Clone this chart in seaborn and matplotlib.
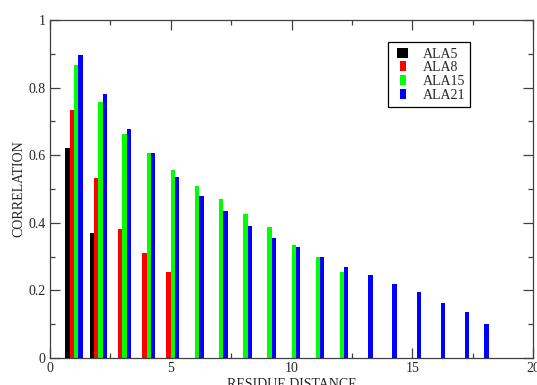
import numpy as np
import pandas as pd
import matplotlib
matplotlib.use("Agg")
import matplotlib.pyplot as plt
import matplotlib.patches as mpatches
from matplotlib.legend_handler import HandlerPatch
from matplotlib.ticker import MultipleLocator
import seaborn as sns

# values
series = ["ALA5", "ALA8", "ALA15", "ALA21"]
colors = ["#000000", "#ff0000", "#00ff00", "#0000ff"]

ala5_dist = [1, 2]
ala5_corr = [0.62, 0.37]

ala8_dist = [1, 2, 3, 4, 5]
ala8_corr = [0.733, 0.532, 0.382, 0.312, 0.255]

ala15_dist = [1, 2, 3, 4, 5, 6, 7, 8, 9, 10, 11, 12]
ala15_corr = [0.867, 0.757, 0.663, 0.607, 0.557, 0.51, 0.47, 0.427, 0.387,
              0.335, 0.30, 0.255]

# last bar sits a bit left of the regular spacing in the original
ala21_dist = [1, 2, 3, 4, 5, 6, 7, 8, 9, 10, 11, 12, 13, 14, 15, 16, 17, 17.8]
ala21_corr = [0.896, 0.782, 0.677, 0.607, 0.536, 0.479, 0.436, 0.391, 0.356,
              0.329, 0.30, 0.269, 0.245, 0.22, 0.194, 0.164, 0.135, 0.101]

xticks = [0, 5, 10, 15, 20]
xtick_labels = ["0", "5", "10", "15", "20"]
yticks = [0, 0.2, 0.4, 0.6, 0.8, 1.0]
ytick_labels = ["0", "0.2", "0.4", "0.6", "0.8", "1"]

frames = []
for name, d, c in [("ALA5", ala5_dist, ala5_corr), ("ALA8", ala8_dist, ala8_corr),
                   ("ALA15", ala15_dist, ala15_corr), ("ALA21", ala21_dist, ala21_corr)]:
    frames.append(pd.DataFrame({"distance": d, "correlation": c, "series": name}))
df = pd.concat(frames, ignore_index=True)

sns.set_style("ticks")
plt.rcParams["font.family"] = ["Liberation Serif", "DejaVu Serif"]
plt.rcParams["font.size"] = 10

fig = plt.figure(figsize=(5.37, 3.85), dpi=100)
ax = fig.add_axes([50 / 537, 27 / 385, 483 / 537, 338 / 385])

# native width is 0.8 (smallest gap between positions), so 0.9 -> 0.72 per group
sns.barplot(data=df, x="distance", y="correlation", hue="series",
            hue_order=series, palette=colors, native_scale=True, width=0.9,
            errorbar=None, saturation=1, linewidth=0, ax=ax)

ax.set_xticks(xticks)
ax.set_xticklabels(xtick_labels)
ax.set_yticks(yticks)
ax.set_yticklabels(ytick_labels)
ax.xaxis.set_minor_locator(MultipleLocator(2.5))
ax.yaxis.set_minor_locator(MultipleLocator(0.1))
ax.set_xlim(0, 20)
ax.set_ylim(0, 1)

edge = "#404040"
for s in ax.spines.values():
    s.set_visible(True)
    s.set_color(edge)
    s.set_linewidth(0.9)
ax.tick_params(which="both", direction="in", top=True, right=True, color=edge,
               width=0.9, labelsize=10, pad=3)
ax.tick_params(which="major", length=7)
ax.tick_params(which="minor", length=3.5)

ax.set_xlabel("RESIDUE DISTANCE", fontsize=10, labelpad=2)
ax.set_ylabel("CORRELATION", fontsize=10, labelpad=2)


def bar_handle(w):
    def make(legend, orig_handle, xdescent, ydescent, width, height, fontsize):
        return mpatches.Rectangle((-xdescent + (width - w) / 2, -ydescent), w, height)
    return make


handles, labels = ax.get_legend_handles_labels()
hmap = {handles[0]: HandlerPatch(patch_func=bar_handle(8))}
for h in handles[1:]:
    hmap[h] = HandlerPatch(patch_func=bar_handle(4.5))
leg = ax.legend(handles, labels, loc="upper left", bbox_to_anchor=(0.70, 0.935),
                frameon=True, fancybox=False, edgecolor="black", framealpha=1,
                handlelength=1.3, handleheight=0.7, handletextpad=0.77,
                labelspacing=0.05, borderpad=0.4, borderaxespad=0, fontsize=10,
                handler_map=hmap)
leg.get_frame().set_linewidth(0.9)

fig.savefig("out.png", dpi=100)
